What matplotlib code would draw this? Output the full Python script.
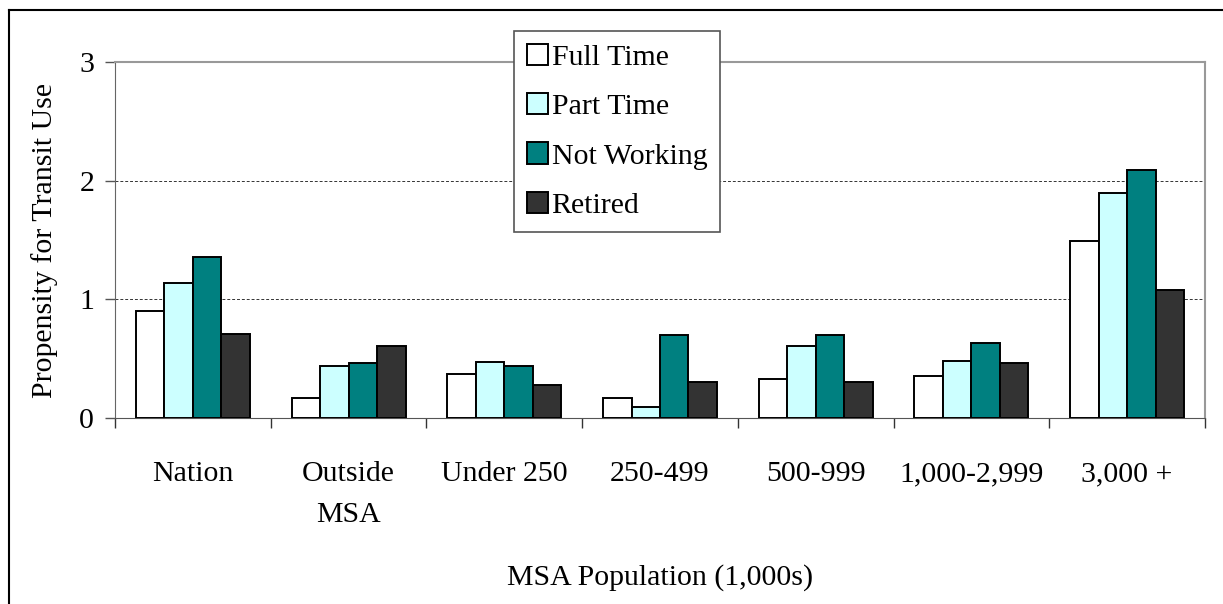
import numpy as np
import matplotlib.pyplot as plt
from matplotlib.lines import Line2D

plt.rcParams['font.family'] = ['Liberation Serif', 'DejaVu Serif']

categories = ['Nation', 'Outside\nMSA', 'Under 250', '250-499', '500-999', '1,000-2,999', '3,000 +']
series_names = ['Full Time', 'Part Time', 'Not Working', 'Retired']
full_time = [0.90, 0.17, 0.37, 0.17, 0.33, 0.35, 1.49]
part_time = [1.14, 0.44, 0.47, 0.095, 0.61, 0.48, 1.90]
not_working = [1.36, 0.46, 0.44, 0.70, 0.70, 0.63, 2.09]
retired = [0.71, 0.61, 0.28, 0.30, 0.30, 0.46, 1.08]

colors = ['#FFFFFF', '#CCFFFF', '#008080', '#333333']
FS = 21.5

fig = plt.figure(figsize=(12.23, 6.04), dpi=100)
ax = fig.add_axes([115 / 1223, 1 - 418 / 604, 1090 / 1223, 356 / 604])

x = np.arange(len(categories))
width = 0.183
series = [full_time, part_time, not_working, retired]
for k, (vals, name) in enumerate(zip(series, series_names)):
    ax.bar(x + (k - 1.5) * width, vals, width, color=colors[k], edgecolor='black',
           linewidth=1.4, label=name, zorder=3)

ax.set_xlim(-0.5, len(categories) - 0.5)
ax.set_ylim(0, 3)
ax.set_yticks([0, 1, 2, 3])
ax.set_yticklabels(['0', '1', '2', '3'], fontsize=FS)
for yv in [1, 2]:
    ax.axhline(yv, color='#333333', linestyle=(0, (3, 2)), linewidth=0.7, zorder=1)

ax.set_xticks(x)
ax.set_xticklabels(categories, fontsize=FS, linespacing=1.75)
ax.set_xticks(np.arange(len(categories) + 1) - 0.5, minor=True)
ax.tick_params(axis='x', which='major', length=0, pad=31)
ax.tick_params(axis='x', which='minor', length=7, width=1, color='#333333')
ax.tick_params(axis='y', length=7, width=1, color='#555555', pad=8)

for side in ['top', 'right']:
    ax.spines[side].set_color('#999999')
    ax.spines[side].set_linewidth(1.5)
ax.spines['left'].set_color('#666666')
ax.spines['bottom'].set_color('#555555')

ax.set_ylabel('Propensity for Transit Use', fontsize=FS, labelpad=15)
ax.set_xlabel('MSA Population (1,000s)', fontsize=FS, labelpad=26)

leg = fig.legend(loc='upper left', bbox_to_anchor=(514 / 1223, 1 - 31 / 604), fontsize=FS,
                 frameon=True, fancybox=False, framealpha=1, edgecolor='#555555',
                 handlelength=0.72, handleheight=0.72, handletextpad=0.12,
                 labelspacing=0.75, borderpad=0.42, borderaxespad=0)
leg.get_frame().set_linewidth(1.2)

# outer frame (only top and left visible in the original)
fig.add_artist(Line2D([9 / 1223, 9 / 1223], [0, 1 - 10 / 604], color='black', linewidth=1.5))
fig.add_artist(Line2D([9 / 1223, 1], [1 - 10 / 604, 1 - 10 / 604], color='black', linewidth=1.5))

fig.savefig('out.png', dpi=100)
